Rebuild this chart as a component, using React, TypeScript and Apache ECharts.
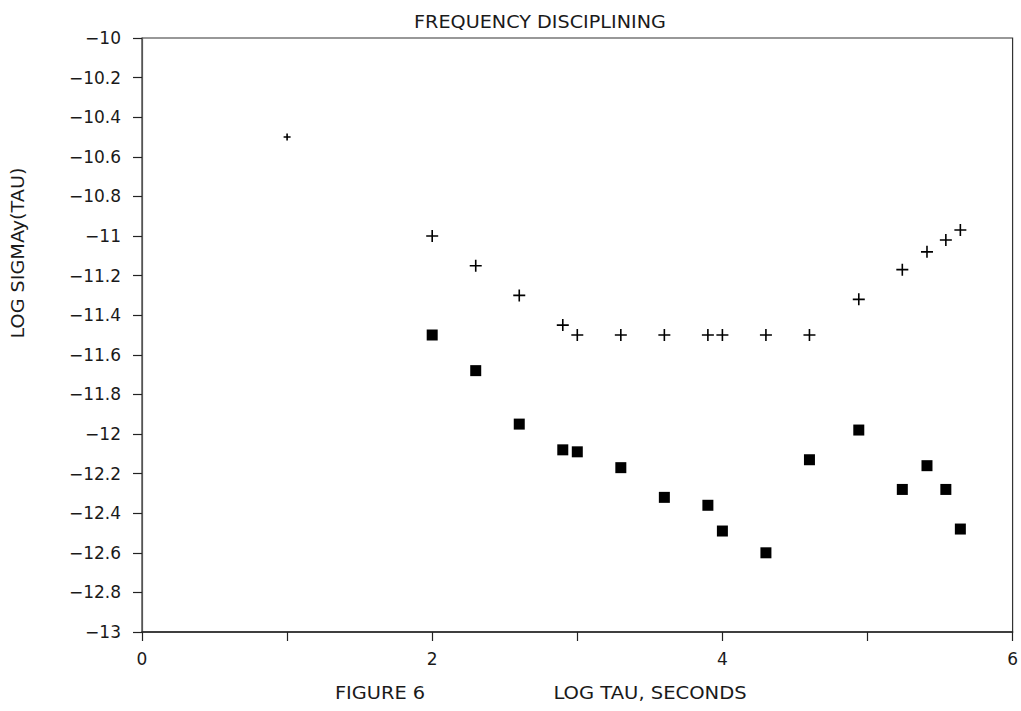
import React, { useEffect, useRef } from "react";
import * as echarts from "echarts";

const chartTitle = "FREQUENCY DISCIPLINING";
const yAxisTitle = "LOG SIGMAy(TAU)";
const figureLabel = "FIGURE 6";
const xAxisTitle = "LOG TAU, SECONDS";

// Log tau (seconds) and log sigma_y(tau) for the "+" series
const plusTau = [1, 2, 2.3, 2.6, 2.9, 3, 3.3, 3.6, 3.9, 4, 4.3, 4.6, 4.94, 5.24, 5.41, 5.54, 5.64];
const plusSigma = [-10.5, -11, -11.15, -11.3, -11.45, -11.5, -11.5, -11.5, -11.5, -11.5, -11.5, -11.5, -11.32, -11.17, -11.08, -11.02, -10.97];

// Log tau and log sigma_y(tau) for the filled-square series
const squareTau = [2, 2.3, 2.6, 2.9, 3, 3.3, 3.6, 3.9, 4, 4.3, 4.6, 4.94, 5.24, 5.41, 5.54, 5.64];
const squareSigma = [-11.5, -11.68, -11.95, -12.08, -12.09, -12.17, -12.32, -12.36, -12.49, -12.6, -12.13, -11.98, -12.28, -12.16, -12.28, -12.48];

const FONT = "DejaVu Sans";
const INK = "#1a1a1a";

export default function App() {
  const ref = useRef<HTMLDivElement>(null);

  useEffect(() => {
    if (!ref.current) return;
    const chart = echarts.init(ref.current, undefined, { renderer: "svg" });

    const plusData = plusTau.map((t, i) => [t, plusSigma[i]]);
    const squareData = squareTau.map((t, i) => [t, squareSigma[i]]);

    const textStyle = { fontFamily: FONT, fontSize: 17, fill: INK };

    chart.setOption({
      animation: false,
      backgroundColor: "#ffffff",
      grid: {
        left: 142,
        right: 8,
        top: 38,
        bottom: 79,
        show: true,
        borderColor: "#333",
        borderWidth: 1.2,
        backgroundColor: "transparent",
      },
      xAxis: {
        type: "value",
        min: 0,
        max: 6,
        interval: 1,
        axisLine: { show: true, onZero: false, lineStyle: { color: "#222", width: 1.5 } },
        axisTick: { show: true, inside: false, length: 9, lineStyle: { color: "#222", width: 1.2 } },
        splitLine: { show: false },
        axisLabel: {
          margin: 18,
          fontFamily: FONT,
          fontSize: 17,
          color: INK,
          formatter: (v: number) => (Math.round(v) % 2 === 0 ? String(Math.round(v)) : ""),
        },
      },
      yAxis: {
        type: "value",
        min: -13,
        max: -10,
        interval: 0.2,
        axisLine: { show: true, onZero: false, lineStyle: { color: "#555", width: 1.2 } },
        axisTick: { show: true, inside: false, length: 9, lineStyle: { color: "#222", width: 1.2 } },
        splitLine: { show: false },
        axisLabel: {
          margin: 21,
          fontFamily: FONT,
          fontSize: 17,
          color: INK,
          formatter: (v: number) => String(parseFloat(v.toFixed(1))).replace("-", "\u2212"),
        },
      },
      graphic: [
        {
          type: "text",
          x: 540,
          y: 22,
          scaleX: 1.13,
          style: { ...textStyle, text: chartTitle, textAlign: "center", textVerticalAlign: "middle" },
        },
        {
          type: "text",
          x: 18,
          y: 253,
          rotation: Math.PI / 2,
          scaleX: 1.13,
          style: { ...textStyle, text: yAxisTitle, textAlign: "center", textVerticalAlign: "middle" },
        },
        {
          type: "text",
          x: 380,
          y: 693,
          scaleX: 1.14,
          style: { ...textStyle, text: figureLabel, textAlign: "center", textVerticalAlign: "middle" },
        },
        {
          type: "text",
          x: 650,
          y: 693,
          scaleX: 1.15,
          style: { ...textStyle, text: xAxisTitle, textAlign: "center", textVerticalAlign: "middle" },
        },
      ],
      series: [
        {
          name: "plus",
          type: "scatter",
          data: plusData,
          symbol: "path://M0,6L12,6M6,0L6,12",
          symbolSize: (v: number[]) => (v[0] < 1.5 ? 7 : 12),
          itemStyle: { color: "none", borderColor: "#000", borderWidth: 1.6, opacity: 1 },
        },
        {
          name: "square",
          type: "scatter",
          data: squareData,
          symbol: "rect",
          symbolSize: 11,
          itemStyle: { color: "#000", opacity: 1 },
        },
      ],
    });

    return () => chart.dispose();
  }, []);

  return (
    <div
      ref={ref}
      style={{ position: "fixed", left: 0, top: 0, width: 1021, height: 711, background: "#fff" }}
    />
  );
}
